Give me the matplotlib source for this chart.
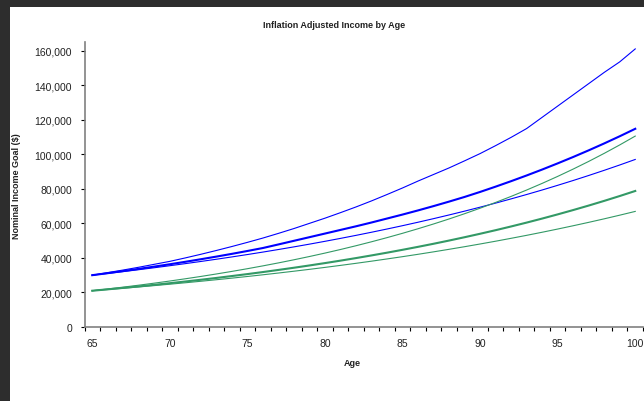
import numpy as np
import matplotlib
matplotlib.use("Agg")
import matplotlib.pyplot as plt
from matplotlib.patches import Rectangle
from matplotlib.ticker import FixedLocator, FuncFormatter

plt.rcParams['font.family'] = ['Liberation Sans', 'DejaVu Sans']

ages = list(range(65, 101))

blue_high = [30000, 31500, 33000, 34600, 36300, 38000, 40000, 42100, 44300, 46600,
             49000, 51500, 54200, 57000, 60000, 63000, 66200, 69500, 73000, 76700,
             80500, 84500, 88300, 92100, 96200, 100400, 105000, 109800, 114900, 121400,
             127900, 134400, 140900, 147400, 153500, 161000]
blue_mid = [30000, 31170, 32390, 33650, 34970, 36330, 37750, 39230, 40760, 42350,
            44010, 45730, 47800, 49900, 52000, 54100, 56200, 58300, 60500, 62800,
            65100, 67500, 70000, 72600, 75300, 78200, 81260, 84430, 87730, 91160,
            94730, 98430, 102280, 106280, 110430, 114750]
blue_low = [30000, 31020, 32080, 33180, 34310, 35480, 36690, 37940, 39230, 40570,
            41950, 43380, 44860, 46390, 47970, 49610, 51300, 53050, 54860, 56730,
            58660, 60660, 62730, 64870, 67080, 69370, 71730, 74180, 76710, 79320,
            82030, 84820, 87720, 90710, 93800, 97000]
green_high = [21000, 22020, 23090, 24210, 25390, 26620, 27920, 29270, 30700, 32190,
              33750, 35390, 37110, 38920, 40810, 42790, 44870, 47050, 49340, 51740,
              54250, 56890, 59650, 62550, 65590, 68780, 72120, 75620, 79300, 83150,
              87190, 91430, 95870, 100530, 105410, 110530]
green_mid = [21000, 21810, 22650, 23520, 24420, 25360, 26340, 27350, 28400, 29500,
             30630, 31810, 33040, 34310, 35630, 37000, 38420, 39900, 41440, 43030,
             44690, 46410, 48190, 50050, 51980, 53980, 56050, 58210, 60450, 62780,
             65200, 67710, 70310, 73020, 75830, 78750]
green_low = [21000, 21710, 22440, 23190, 23970, 24780, 25610, 26480, 27370, 28290,
             29240, 30230, 31250, 32300, 33380, 34510, 35670, 36870, 38110, 39400,
             40720, 42090, 43510, 44980, 46490, 48060, 49670, 51350, 53070, 54860,
             56710, 58620, 60590, 62630, 64740, 66920]

BLUE = '#0000FF'
GREEN = '#339966'
TXT = '#222222'

fig = plt.figure(figsize=(6.44, 4.02), dpi=100)
fig.patch.set_facecolor('#2d2d2d')
fig.patches.append(Rectangle((10 / 644, 0), 1, 1 - 8 / 402, transform=fig.transFigure,
                             facecolor='white', edgecolor='none', zorder=-10))

ax = fig.add_axes([84.5 / 644, 74 / 402, (643 - 84.5) / 644, (328 - 43) / 402])
ax.set_facecolor('none')

ax.plot(ages, blue_high, color=BLUE, lw=0.8)
ax.plot(ages, blue_mid, color=BLUE, lw=1.5)
ax.plot(ages, blue_low, color=BLUE, lw=0.8)
ax.plot(ages, green_high, color=GREEN, lw=0.8)
ax.plot(ages, green_mid, color=GREEN, lw=1.5)
ax.plot(ages, green_low, color=GREEN, lw=0.8)

ax.set_xlim(64.5, 100.5)
ax.set_ylim(0, 165000)

for s in ['top', 'right']:
    ax.spines[s].set_visible(False)
for s in ['left', 'bottom']:
    ax.spines[s].set_color('#808080')
    ax.spines[s].set_linewidth(1.2)

# category boundaries get ticks, labels sit between them
ax.xaxis.set_major_locator(FixedLocator(np.arange(64.5, 101, 1)))
ax.xaxis.set_minor_locator(FixedLocator(ages[::5]))
ax.xaxis.set_major_formatter(FuncFormatter(lambda v, p: ''))
ax.xaxis.set_minor_formatter(FuncFormatter(lambda v, p: '%d' % v))
ax.tick_params(axis='x', which='major', direction='out', length=3, width=0.8, color='black')
ax.tick_params(axis='x', which='minor', length=0, pad=8, labelsize=7.5, labelcolor=TXT)

ax.set_yticks(np.arange(0, 160001, 20000))
ax.yaxis.set_major_formatter(FuncFormatter(lambda v, p: '{:,.0f}'.format(v)))
ax.tick_params(axis='y', direction='out', length=3, width=0.8, color='black', pad=6,
               labelsize=7.5, labelcolor=TXT)

fig.text(334.5 / 644, 1 - 25 / 402, 'Inflation Adjusted Income by Age', ha='center', va='center',
         fontsize=6.5, fontweight='bold', color=TXT)
fig.text(17 / 644, 1 - 186 / 402, 'Nominal Income Goal ($)', ha='center', va='center',
         rotation=90, fontsize=6.5, fontweight='bold', color=TXT)
fig.text(352 / 644, 1 - 364 / 402, 'Age', ha='center', va='center',
         fontsize=6.5, fontweight='bold', color=TXT)

fig.savefig('out.png', dpi=100, facecolor=fig.get_facecolor())
